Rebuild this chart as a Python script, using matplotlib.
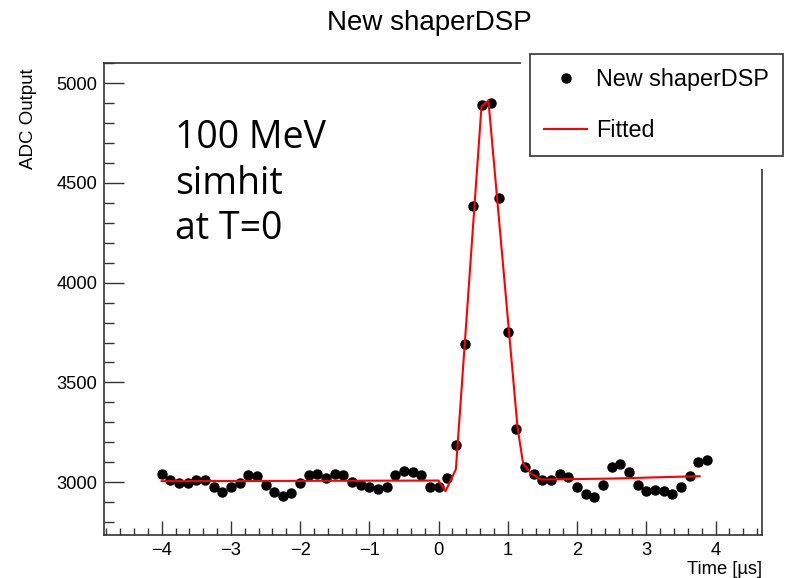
import numpy as np
import matplotlib
matplotlib.use("Agg")
import matplotlib.pyplot as plt
from matplotlib.ticker import MultipleLocator
from matplotlib.patches import Rectangle

plt.rcParams['font.family'] = ['Liberation Sans', 'DejaVu Sans']

## Data
time_us = [-4.000, -3.875, -3.750, -3.625, -3.500, -3.375, -3.250, -3.125,
           -3.000, -2.875, -2.750, -2.625, -2.500, -2.375, -2.250, -2.125,
           -2.000, -1.875, -1.750, -1.625, -1.500, -1.375, -1.250, -1.125,
           -1.000, -0.875, -0.750, -0.625, -0.500, -0.375, -0.250, -0.125,
           0.000, 0.125, 0.250, 0.375, 0.500, 0.625, 0.750, 0.875,
           1.000, 1.125, 1.250, 1.375, 1.500, 1.625, 1.750, 1.875,
           2.000, 2.125, 2.250, 2.375, 2.500, 2.625, 2.750, 2.875,
           3.000, 3.125, 3.250, 3.375, 3.500, 3.625, 3.750, 3.875]
adc = [3043, 3010, 2997, 2997, 3010, 3010, 2977, 2952,
       2977, 2997, 3035, 3030, 2985, 2952, 2930, 2947,
       2997, 3038, 3043, 3022, 3043, 3035, 3002, 2985,
       2977, 2968, 2977, 3035, 3055, 3052, 3035, 2977,
       2977, 3020, 3185, 3695, 4385, 4893, 4902, 4423,
       3752, 3268, 3077, 3043, 3010, 3013, 3043, 3027,
       2977, 2943, 2927, 2988, 3077, 3093, 3052, 2988,
       2955, 2963, 2955, 2943, 2977, 3030, 3102, 3113]

# fitted curve, corner points of the drawn polyline
fit_t = [-4.0, 0.0, 0.1, 0.25, 0.62, 0.72, 1.14, 1.22, 1.33, 1.48, 2.5, 3.77]
fit_adc = [3005, 3008, 2955, 3065, 4885, 4912, 3275, 3095, 3045, 3013, 3018, 3030]

W, H = 793, 578
frame_col = "#333333"

fig = plt.figure(figsize=(W / 100, H / 100), dpi=100)
ax = fig.add_axes([104 / W, 1 - 535 / H, (762.3 - 104) / W, (535 - 62.7) / H])

pts, = ax.plot(time_us, adc, "o", color="black", markersize=6.5, linestyle="none",
               label="New shaperDSP")
fit, = ax.plot(fit_t, fit_adc, color="#ff0000", linewidth=1.5, label="Fitted")

ax.set_xlim(-4.833, 4.676)
ax.set_ylim(2735, 5103)

ax.xaxis.set_major_locator(MultipleLocator(1))
ax.xaxis.set_minor_locator(MultipleLocator(0.2))
ax.yaxis.set_major_locator(MultipleLocator(500))
ax.yaxis.set_minor_locator(MultipleLocator(100))

ax.tick_params(axis="both", which="both", direction="in", top=False, right=False,
               color=frame_col, width=1.0, labelsize=13.2)
ax.tick_params(axis="x", which="major", length=10, pad=5)
ax.tick_params(axis="x", which="minor", length=5)
ax.tick_params(axis="y", which="major", length=14.4, pad=5)
ax.tick_params(axis="y", which="minor", length=7.2)
for s in ax.spines.values():
    s.set_color(frame_col)
    s.set_linewidth(1.2)

# titles
fig.text(429 / W, 1 - 23 / H, "New shaperDSP", ha="center", va="center", fontsize=20)
fig.text(29 / W, 1 - 68 / H, "ADC Output", rotation=90, ha="center", va="top", fontsize=13.5)
fig.text(762 / W, 1 - 569 / H, "Time [\u00b5s]", ha="right", va="center", fontsize=13.2)

# annotation
for line, base in zip(["100 MeV", "simhit", "at T=0"], [148, 194, 239]):
    fig.text(175 / W, 1 - base / H, line, ha="left", va="baseline",
             fontsize=27, family="Open Sans")

# white area around the legend
fig.patches.append(Rectangle((521 / W, 1 - 169 / H), 270 / W, 119 / H,
                             transform=fig.transFigure, facecolor="white",
                             edgecolor="none", zorder=4))

leg = fig.legend(handles=[pts, fit], loc="upper left",
                 bbox_to_anchor=(530 / W, 1 - 54 / H), bbox_transform=fig.transFigure,
                 fontsize=16.8, numpoints=1, fancybox=False, framealpha=1,
                 borderpad=0.6, labelspacing=1.2, handlelength=1.85,
                 handletextpad=0.4, borderaxespad=0)
leg.get_frame().set_edgecolor(frame_col)
leg.get_frame().set_linewidth(1.2)
leg.set_zorder(6)

fig.savefig("out.png", dpi=100)
